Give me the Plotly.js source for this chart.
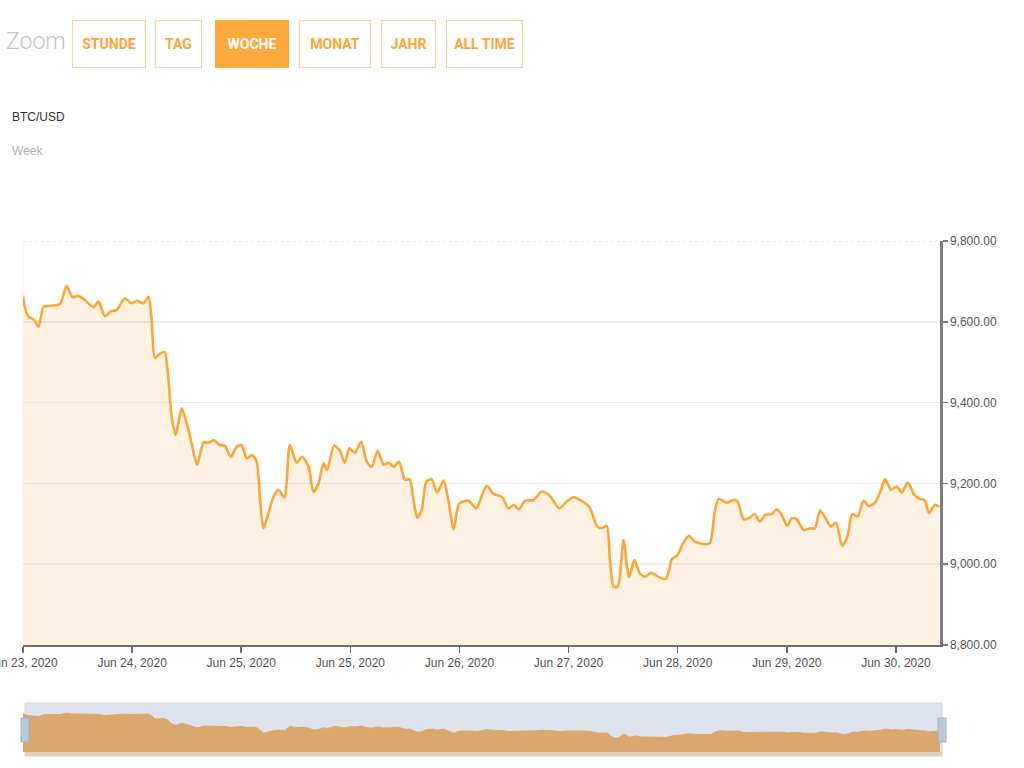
<!DOCTYPE html>
<html>
<head>
<meta charset="utf-8">
<script src="https://cdn.plot.ly/plotly-3.0.1.min.js"></script>
<style>
  html, body { margin: 0; padding: 0; background: #ffffff; }
  #chart { width: 1024px; height: 768px; }
</style>
</head>
<body>
<div id="chart"></div>
<script>
// ---- data (hours since Jun 23, 2020 start of view, BTC/USD price) ----
var hours = [
  0, 0.4, 1.2, 2.3, 3.4, 4.5, 5.6, 8.1, 9.6, 10.8, 12.2, 13.6, 15.5, 16.6, 18.0, 19.5, 20.6, 22.4, 23.9, 25.0,
  26.5, 27.6, 28.3, 29.0, 29.8, 31.1, 31.8, 32.7, 33.6, 34.9, 36.0, 37.1, 38.3, 39.7, 40.8, 42.0, 43.3, 44.4, 45.7, 47.0,
  48.1, 49.2, 50.4, 51.4, 52.1, 52.9, 54.0, 55.1, 56.2, 57.5, 58.7, 60.2, 61.4, 62.8, 63.9, 65.0, 66.1, 66.9, 68.4, 69.6,
  70.8, 71.8, 73.0, 74.4, 75.6, 76.7, 78.0, 79.3, 80.4, 81.6, 82.7, 84.0, 85.0, 85.9, 86.7, 87.7, 88.7, 89.9, 91.1, 92.5,
  93.6, 94.7, 95.5, 96.1, 98.0, 99.7, 100.9, 102.0, 103.5, 105.3, 106.8, 107.9, 109.1, 110.4, 112.3, 114.1, 115.9, 118.0, 119.6, 121.1,
  122.5, 124.6, 126.2, 127.3, 128.4, 129.1, 129.9, 130.8, 132.1, 133.3, 134.5, 135.7, 136.8, 138.2, 139.4, 141.4, 142.7, 144.0, 145.0, 146.4,
  147.8, 149.7, 151.1, 152.1, 153.0, 154.8, 156.3, 157.2, 158.5, 159.7, 160.9, 162.1, 163.2, 164.7, 165.8, 166.9, 168.1, 169.1, 170.2, 171.7,
  173.1, 174.2, 175.3, 176.4, 177.7, 178.8, 180.2, 181.4, 182.4, 183.6, 184.9, 186.0, 187.3, 188.5, 189.6, 190.9, 192.2, 193.3, 194.6, 196.1,
  197.3, 198.3, 199.3, 200.6, 201.5
];
var prices = [
  9666, 9637, 9613, 9606, 9588, 9637, 9639, 9644, 9689, 9662, 9664, 9654, 9636, 9650, 9614, 9627, 9629, 9658, 9646, 9652,
  9646, 9662, 9604, 9510, 9518, 9526, 9481, 9365, 9320, 9386, 9349, 9299, 9246, 9301, 9301, 9307, 9295, 9293, 9266, 9291,
  9295, 9262, 9270, 9254, 9167, 9089, 9126, 9167, 9184, 9165, 9295, 9251, 9266, 9241, 9179, 9200, 9250, 9233, 9293, 9283,
  9251, 9287, 9276, 9303, 9254, 9241, 9281, 9246, 9251, 9241, 9254, 9209, 9210, 9159, 9115, 9134, 9204, 9210, 9177, 9207,
  9155, 9085, 9134, 9152, 9157, 9138, 9169, 9194, 9174, 9167, 9138, 9147, 9136, 9157, 9159, 9180, 9169, 9138, 9155, 9166,
  9159, 9141, 9095, 9089, 9095, 9010, 8944, 8944, 9060, 8968, 9010, 8977, 8969, 8979, 8971, 8963, 9012, 9023, 9048, 9070,
  9056, 9050, 9053, 9126, 9161, 9152, 9159, 9155, 9111, 9114, 9124, 9105, 9122, 9124, 9136, 9122, 9095, 9114, 9111, 9085,
  9089, 9089, 9133, 9116, 9093, 9103, 9045, 9072, 9124, 9118, 9157, 9144, 9151, 9177, 9210, 9185, 9192, 9177, 9202, 9171,
  9161, 9159, 9126, 9147, 9142
];
var tickHours = [0, 24, 48, 72, 96, 120, 144, 168, 192];
var tickLabels = ["Jun 23, 2020", "Jun 24, 2020", "Jun 25, 2020", "Jun 25, 2020", "Jun 26, 2020",
                  "Jun 27, 2020", "Jun 28, 2020", "Jun 29, 2020", "Jun 30, 2020"];
var priceTicks = [8800, 9000, 9200, 9400, 9600, 9800];
var zoomButtons = ["STUNDE", "TAG", "WOCHE", "MONAT", "JAHR", "ALL TIME"];
var activeButton = "WOCHE";
var pairTitle = "BTC/USD";
var rangeTitle = "Week";
var zoomLabel = "Zoom";

// ---- layout helpers (pixel -> paper) ----
var ML = 23, MR = 84, MT = 241, MB = 16, W = 1024, H = 768;
var PW = W - ML - MR, PH = H - MT - MB;
function px(x) { return (x - ML) / PW; }
function py(y) { return (H - MB - y) / PH; }

var ORANGE = '#FFA536';
var FONT = 'Liberation Sans, Arial, sans-serif';

var traces = [
  {
    x: hours, y: prices, type: 'scatter', mode: 'lines',
    line: { color: ORANGE, width: 2.6, shape: 'spline', smoothing: 0.7 },
    fill: 'tozeroy', fillcolor: 'rgba(255,165,50,0.14)',
    xaxis: 'x', yaxis: 'y', hoverinfo: 'skip'
  },
  {
    x: hours, y: prices, type: 'scatter', mode: 'lines',
    line: { color: '#DAA86C', width: 1 },
    fill: 'tozeroy', fillcolor: '#DAA86C',
    xaxis: 'x2', yaxis: 'y2', hoverinfo: 'skip'
  }
];

// button geometry (pixels): left, right
var btnBoxes = [[72, 146], [155, 202], [215, 289], [299, 371], [381, 436], [446, 523]];
var annotations = [
  { text: zoomLabel, xref: 'paper', yref: 'paper', x: px(4), y: py(42), xanchor: 'left', yanchor: 'middle',
    showarrow: false, font: { family: 'Roboto, sans-serif', size: 23, color: '#c4c4c4', weight: 300 } },
  { text: pairTitle, xref: 'paper', yref: 'paper', x: px(10), y: py(117), xanchor: 'left', yanchor: 'middle',
    showarrow: false, font: { family: FONT, size: 12, color: '#333333' } },
  { text: rangeTitle, xref: 'paper', yref: 'paper', x: px(10), y: py(151), xanchor: 'left', yanchor: 'middle',
    showarrow: false, font: { family: FONT, size: 12, color: '#b0b0b0' } }
];
zoomButtons.forEach(function (label, i) {
  var b = btnBoxes[i];
  var active = label === activeButton;
  annotations.push({
    text: '<b>' + label + '</b>', xref: 'paper', yref: 'paper',
    x: px((b[0] + b[1]) / 2), y: py(44), xanchor: 'center', yanchor: 'middle',
    width: b[1] - b[0] - 2, height: 46, align: 'center', valign: 'middle',
    showarrow: false, borderpad: 0, borderwidth: 1,
    bordercolor: active ? '#FFA536' : '#FFCF94',
    bgcolor: active ? '#FFA93A' : '#ffffff',
    font: { family: 'Roboto, sans-serif', size: 14, color: active ? '#ffffff' : '#FFA536' }
  });
});

var shapes = [
  // navigator background
  { type: 'rect', xref: 'paper', yref: 'paper', x0: px(25), x1: px(942), y0: py(756), y1: py(703),
    fillcolor: '#DDE3EC', line: { color: '#CDD6E2', width: 1 }, layer: 'below' },
  { type: 'rect', xref: 'paper', yref: 'paper', x0: px(25), x1: px(942), y0: py(756), y1: py(752),
    fillcolor: '#E3D2BA', line: { width: 0 }, layer: 'above' },
  // navigator handles
  { type: 'rect', xref: 'paper', yref: 'paper', x0: px(21), x1: px(29), y0: py(742), y1: py(718),
    fillcolor: '#BCC8DA', line: { color: '#9FB0C8', width: 1 }, layer: 'above' },
  { type: 'rect', xref: 'paper', yref: 'paper', x0: px(938), x1: px(946), y0: py(742), y1: py(718),
    fillcolor: '#BCC8DA', line: { color: '#9FB0C8', width: 1 }, layer: 'above' },
  // top border line of plot (light orange, dotted)
  { type: 'line', xref: 'x', yref: 'y', x0: 0, x1: 201.7, y0: 9800, y1: 9800,
    line: { color: '#FBE2CC', width: 1.5, dash: 'dot' }, layer: 'above' },
  { type: 'line', xref: 'x', yref: 'y', x0: 0, x1: 0, y0: 9660, y1: 9800,
    line: { color: '#FDEBDB', width: 1 }, layer: 'above' }
];

var layout = {
  width: W, height: H,
  margin: { l: ML, r: MR, t: MT, b: MB, pad: 0 },
  paper_bgcolor: '#ffffff', plot_bgcolor: 'rgba(0,0,0,0)',
  showlegend: false,
  font: { family: FONT, size: 12, color: '#555555' },
  xaxis: {
    domain: [0, 1], range: [0, 201.7], anchor: 'y',
    tickmode: 'array', tickvals: tickHours, ticktext: tickLabels,
    ticklabeloverflow: 'allow',
    showgrid: false, zeroline: false,
    showline: true, linecolor: '#6e6e6e', linewidth: 1.5,
    ticks: 'outside', ticklen: 6, tickwidth: 1.5, tickcolor: '#6e6e6e',
    tickfont: { family: FONT, size: 12, color: '#555555' }
  },
  yaxis: {
    domain: [py(645), 1], range: [8800, 9800], anchor: 'x', side: 'right',
    tickmode: 'array', tickvals: priceTicks, tickformat: ',.2f',
    ticklabeloverflow: 'allow',
    showgrid: true, gridcolor: '#ededed', gridwidth: 1.5, zeroline: false,
    showline: true, linecolor: '#7c7c7c', linewidth: 2.5,
    ticks: 'outside', ticklen: 5, tickwidth: 1.5, tickcolor: '#7c7c7c',
    tickfont: { family: FONT, size: 12, color: '#555555' }
  },
  xaxis2: {
    domain: [0, 1], range: [0, 201.5], anchor: 'y2',
    showgrid: false, zeroline: false, showline: false, showticklabels: false, ticks: ''
  },
  yaxis2: {
    domain: [0, py(704)], range: [8530, 9960], anchor: 'x2',
    showgrid: false, zeroline: false, showline: false, showticklabels: false, ticks: ''
  },
  annotations: annotations,
  shapes: shapes
};

Plotly.newPlot('chart', traces, layout, { staticPlot: true, displayModeBar: false });
</script>
</body>
</html>
